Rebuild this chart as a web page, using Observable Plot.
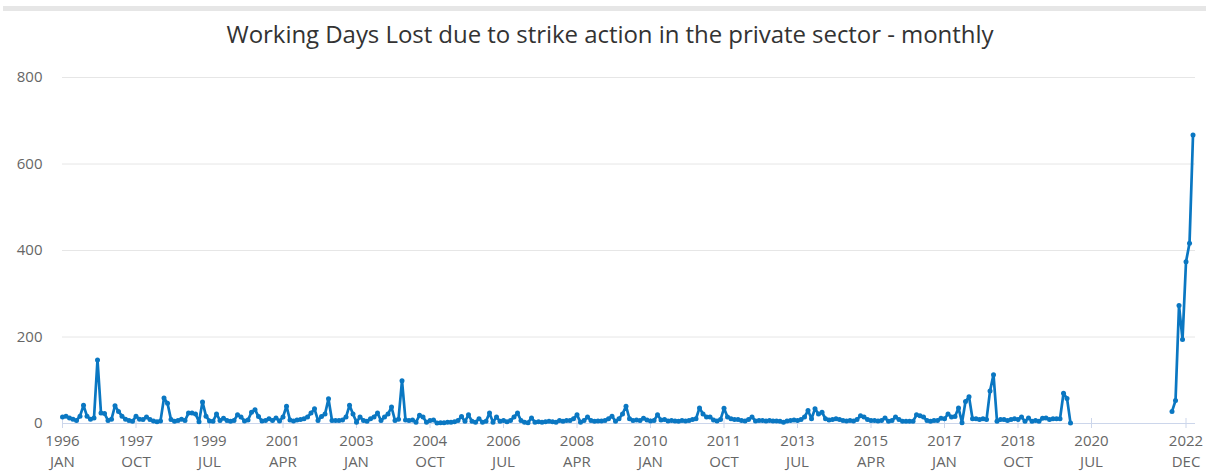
<!DOCTYPE html>
<html>
<head>
<meta charset="utf-8">
<script src="https://cdn.jsdelivr.net/npm/d3@7"></script>
<script src="https://cdn.jsdelivr.net/npm/@observablehq/plot@0.6"></script>
<style>
  html, body { margin: 0; padding: 0; background: #fff; }
  body { width: 1206px; height: 472px; position: relative; overflow: hidden; font-family: "Open Sans", sans-serif; }
  #bar { position: absolute; left: 3px; right: 0; top: 6px; height: 5px; background: #e6e6e6; }
  #title { position: absolute; left: 7px; width: 1206px; top: 18px; text-align: center; font-size: 24px; line-height: 32px; color: #333; letter-spacing: -0.05px; }
  #chart { position: absolute; left: 0; top: 55px; }
  #chart svg { overflow: visible; }
</style>
</head>
<body>
<div id="bar"></div>
<div id="title">Working Days Lost due to strike action in the private sector - monthly</div>
<div id="chart"></div>
<script>
const startYear = 1996;
const monthNames = ["JAN","FEB","MAR","APR","MAY","JUN","JUL","AUG","SEP","OCT","NOV","DEC"];

// Working days lost (thousands), monthly, Jan 1996 - Dec 2022 (null = no data)
const values = [
  15,17,13,10,7,17,42,17,10,13,147,24,        // 1996
  23,7,10,41,28,17,10,7,5,17,10,9,            // 1997
  15,9,6,4,6,59,47,9,5,7,10,7,                // 1998
  24,24,22,4,50,17,6,5,22,7,12,7,             // 1999
  5,7,20,15,6,8,26,32,16,6,7,11,              // 2000
  7,13,6,15,40,8,6,8,9,11,15,24,              // 2001
  34,7,16,22,57,7,7,7,8,15,42,22,             // 2002
  3,15,7,5,11,15,24,7,15,22,38,7,             // 2003
  10,99,8,7,8,3,19,15,3,7,8,1,                // 2004
  2,2,3,3,4,7,16,5,20,5,3,11,                 // 2005
  3,5,24,3,15,5,7,4,7,15,24,7,                // 2006
  3,2,13,3,4,3,4,5,4,3,7,5,                   // 2007
  7,7,11,20,3,7,15,7,5,6,6,7,                 // 2008
  11,17,5,11,22,40,11,7,8,7,12,8,             // 2009
  6,7,20,8,9,6,7,6,5,7,6,7,                   // 2010
  9,11,36,22,15,15,8,6,9,35,15,11,            // 2011
  9,9,7,6,9,15,6,7,7,6,7,6,                   // 2012
  6,5,3,6,7,8,7,9,15,30,11,34,                // 2013
  22,26,11,8,9,11,9,7,6,7,6,9,                // 2014
  18,15,9,7,7,6,7,13,5,7,15,9,                // 2015
  5,5,5,5,20,18,15,7,5,7,7,12,                // 2016
  11,22,15,16,36,2,51,62,11,11,9,11,          // 2017
  9,75,113,5,9,9,7,9,11,9,15,5,               // 2018
  13,5,7,5,12,13,9,11,11,11,70,58,            // 2019
  1,null,null,null,null,null,null,null,null,null,null,null, // 2020
  null,null,null,null,null,null,null,null,null,null,null,null, // 2021
  null,null,null,null,null,28,53,273,194,374,417,667 // 2022
];

// month categories
const months = values.map((_, i) => `${startYear + Math.floor(i / 12)} ${monthNames[i % 12]}`);

const tickLabels = ["1996 JAN","1997 OCT","1999 JUL","2001 APR","2003 JAN","2004 OCT","2006 JUL",
  "2008 APR","2010 JAN","2011 OCT","2013 JUL","2015 APR","2017 JAN","2018 OCT","2020 JUL","2022 DEC"];
const yTicks = [0, 200, 400, 600, 800];

const tickIdx = tickLabels.map(l => months.indexOf(l));
const lastTick = tickIdx[tickIdx.length - 1];
const mainTicks = tickIdx.slice(0, -1);
const fmt = i => months[i].replace(" ", "\n");

const data = values.map((v, i) => ({i, month: months[i], v: v == null ? NaN : v}));
const pts = data.filter(d => !isNaN(d.v));

const color = "#0a77c2";
const xAxisOpts = {tickFormat: fmt, tickSize: 10, tickPadding: 3, stroke: "#ccd6eb", fill: "#666", fontSize: 15, lineHeight: 1.4, dy: -5, label: null};
const chart = Plot.plot({
  width: 1206,
  height: 417,
  marginLeft: 62,
  marginRight: 11,
  marginTop: 22,
  marginBottom: 49,
  style: {fontFamily: "'Open Sans', sans-serif", fontSize: "15px", background: "transparent"},
  x: {type: "linear", domain: [0, 323.71]},
  y: {domain: [0, 800]},
  marks: [
    Plot.gridY(yTicks.filter(t => t > 0), {stroke: "#e6e6e6", strokeOpacity: 1}),
    Plot.axisY(yTicks, {tickSize: 0, tickPadding: 20, fill: "#666", fontSize: 15, label: null}),
    Plot.axisX(mainTicks, xAxisOpts),
    Plot.axisX([lastTick], {...xAxisOpts, dx: -7}),
    Plot.ruleY([0], {stroke: "#ccd6eb"}),
    Plot.line(data, {x: "i", y: "v", stroke: color, strokeWidth: 2.7}),
    Plot.dot(pts, {x: "i", y: "v", r: 2.5, fill: color, stroke: "none"})
  ]
});
document.getElementById("chart").appendChild(chart);
</script>
</body>
</html>
